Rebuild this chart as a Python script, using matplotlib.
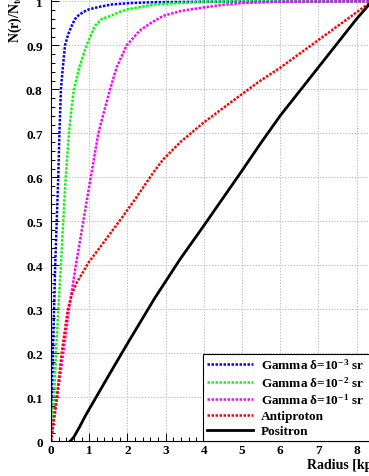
import numpy as np
import matplotlib
matplotlib.use('Agg')
import matplotlib.pyplot as plt
from matplotlib.ticker import MultipleLocator

plt.rcParams['font.family'] = ['Liberation Serif', 'DejaVu Serif']
plt.rcParams['font.weight'] = 'bold'
plt.rcParams['mathtext.fontset'] = 'custom'
plt.rcParams['mathtext.rm'] = 'Liberation Serif:bold'
plt.rcParams['mathtext.bf'] = 'Liberation Serif:bold'
plt.rcParams['mathtext.it'] = 'Liberation Serif:bold'

# gamma, delta = 1e-3 sr
r_g3 = [0, 0.02, 0.05, 0.08, 0.11, 0.15, 0.19, 0.22, 0.26, 0.31, 0.367, 0.45, 0.54, 0.63, 0.72, 0.85, 1.0, 1.3, 1.6, 2.1, 2.7, 4.0, 8.4]
n_g3 = [0, 0.1, 0.2, 0.3, 0.4, 0.5, 0.6, 0.7, 0.8, 0.85, 0.9, 0.925, 0.944, 0.96, 0.968, 0.976, 0.982, 0.988, 0.993, 0.996, 0.998, 0.999, 1.0]

# gamma, delta = 1e-2 sr
r_g2 = [0, 0.08, 0.13, 0.19, 0.26, 0.32, 0.385, 0.47, 0.53, 0.6, 0.74, 0.93, 1.15, 1.33, 1.59, 1.8, 2.02, 2.4, 2.72, 3.3, 4.0, 8.4]
n_g2 = [0, 0.1, 0.2, 0.3, 0.4, 0.5, 0.6, 0.7, 0.75, 0.8, 0.85, 0.9, 0.944, 0.96, 0.968, 0.976, 0.982, 0.988, 0.993, 0.996, 0.999, 1.0]

# gamma, delta = 1e-1 sr
r_g1 = [0, 0.165, 0.32, 0.47, 0.65, 0.845, 1.04, 1.24, 1.39, 1.545, 1.72, 1.98, 2.33, 2.6, 2.94, 3.4, 3.99, 4.5, 5.0, 6.0, 8.4]
n_g1 = [0, 0.1, 0.2, 0.3, 0.4, 0.5, 0.6, 0.7, 0.75, 0.8, 0.85, 0.9, 0.934, 0.95, 0.967, 0.978, 0.986, 0.992, 0.996, 0.999, 1.0]

# antiproton
r_pbar = [0, 0.15, 0.28, 0.44, 0.55, 0.67, 0.76, 0.98, 1.24, 1.83, 2.2, 2.68, 2.94, 3.4, 3.99, 4.7, 5.47, 6.0, 7.0, 8.0, 8.4]
n_pbar = [0, 0.1, 0.2, 0.3, 0.335, 0.36, 0.373, 0.406, 0.436, 0.505, 0.55, 0.611, 0.641, 0.681, 0.724, 0.77, 0.819, 0.849, 0.912, 0.975, 1.0]

# positron
r_pos = [0.5, 0.6, 0.75, 0.9, 1.0, 1.5, 2.0, 2.72, 3.38, 4.0, 5.0, 5.47, 6.0, 7.0, 8.0, 8.4]
n_pos = [0, 0.01, 0.033, 0.058, 0.073, 0.148, 0.222, 0.326, 0.414, 0.49, 0.615, 0.675, 0.74, 0.85, 0.96, 1.0]

labels = [r'Gamma $\delta$=10$^{-3}$ sr', r'Gamma $\delta$=10$^{-2}$ sr',
          r'Gamma $\delta$=10$^{-1}$ sr', 'Antiproton', 'Positron']

W, H = 369, 477
fig = plt.figure(figsize=(W / 100, H / 100), dpi=100)
x0, y0 = 51, 442.3
ppx, ppy = 38.2, 440.0
ax = fig.add_axes([x0 / W, (H - y0) / H, (W - x0) / W, y0 / H])
ax.set_xlim(0, (W - x0) / ppx)
ax.set_ylim(0, y0 / ppy)

dot = (0, (1, 0.6))
ax.plot(r_g3, n_g3, color='#0000ff', lw=1.8, ls=dot, label=labels[0])
ax.plot(r_g2, n_g2, color='#00ff00', lw=1.8, ls=dot, label=labels[1])
ax.plot(r_g1, n_g1, color='#ff00ff', lw=1.8, ls=dot, label=labels[2])
ax.plot(r_pbar, n_pbar, color='#ff0000', lw=1.8, ls=dot, label=labels[3])
ax.plot(r_pos, n_pos, color='black', lw=2.0, ls='-', label=labels[4])

ax.xaxis.set_major_locator(MultipleLocator(1))
ax.xaxis.set_minor_locator(MultipleLocator(0.2))
ax.yaxis.set_minor_locator(MultipleLocator(0.02))
ax.set_yticks(np.arange(0, 1.01, 0.1))
ax.set_yticklabels(['0', '0.1', '0.2', '0.3', '0.4', '0.5', '0.6', '0.7', '0.8', '0.9', '1'])
ax.tick_params(which='both', direction='in', labelsize=9.5)
ax.tick_params(which='major', length=6, width=0.7)
ax.tick_params(which='minor', length=3, width=0.7)
ax.tick_params(axis='y', pad=6)
ax.tick_params(axis='x', pad=2)
ax.grid(True, which='major', color='#c0c0c0', ls=(0, (1.5, 1.5)), lw=0.7)
ax.spines['top'].set_visible(False)
ax.spines['right'].set_visible(False)
for s in ['left', 'bottom']:
    ax.spines[s].set_linewidth(0.8)

lx = (203 - x0) / (W - x0)
lh = (y0 - 354) / y0
leg = ax.legend(loc='lower left', bbox_to_anchor=(lx, 0, 1.05 - lx, lh), mode='expand',
                borderaxespad=0, fontsize=9.5, handlelength=3.5, handletextpad=0.6,
                labelspacing=0.22, borderpad=0.3, fancybox=False, framealpha=1)
leg.get_frame().set_edgecolor('black')
leg.get_frame().set_linewidth(0.8)

fig.text(15 / W, 1 - 43 / H, r'N(r)/N$_{tot}$', rotation=90, ha='center', va='bottom',
         fontsize=10)
fig.text(307 / W, 1 - 466 / H, 'Radius [kpc]', ha='left', va='center', fontsize=10)

fig.savefig('out.png', dpi=100)
